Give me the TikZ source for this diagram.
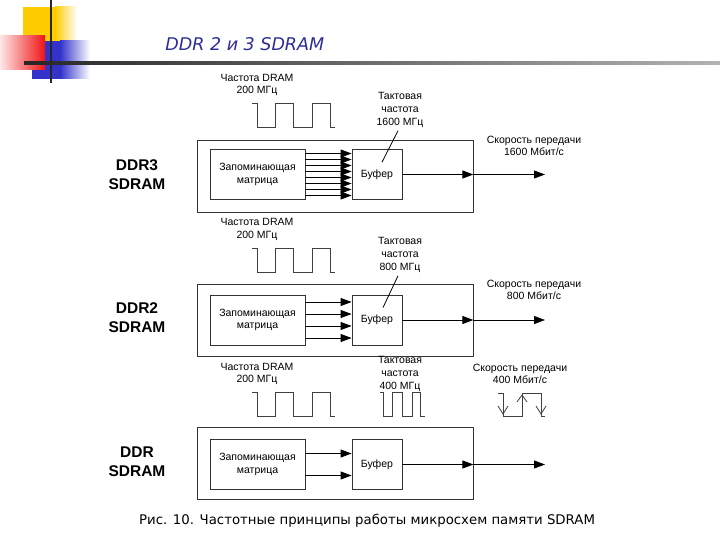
\documentclass[tikz,border=0pt]{standalone}
\usepackage{fontspec}
\setmainfont{Liberation Sans}
\newfontfamily\slidefont{DejaVu Sans}
\usetikzlibrary{arrows.meta}
\definecolor{titleblue}{RGB}{45,45,150}
\definecolor{slideyellow}{RGB}{255,204,0}
\definecolor{slidered}{RGB}{240,20,20}
\definecolor{slideblue}{RGB}{51,51,204}
\tikzset{
	txt/.style={font=\fontsize{10.5}{12.7}\selectfont,align=center,inner sep=0pt},
	chip/.style={font=\fontsize{15.5}{19}\selectfont\bfseries,align=center,inner sep=0pt},
	chipbox/.style={draw=black!80,line width=0.8pt,minimum width=276pt,minimum height=72pt,inner sep=0pt},
	matr/.style={draw=black!80,line width=0.8pt,minimum width=95pt,minimum height=50pt,txt},
	bufbox/.style={draw=black!80,line width=0.8pt,minimum width=50pt,minimum height=50pt,txt},
	wave/.style={draw=black!75,line width=0.8pt}
}
\begin{document}
\begin{tikzpicture}[x=1pt,y=-1pt,>={Triangle[length=11pt,width=8pt]},line width=0.8pt]
	\useasboundingbox (0,0) rectangle (720,540);
	% slide decoration
	\fill[slideyellow] (23,7) rectangle (55,42);
	\shade[left color=slideyellow,right color=white] (55,7) rectangle (77,42);
	\fill[slideblue] (32,41) rectangle (60,79);
	\shade[left color=slideblue,right color=white] (60,41) rectangle (90,79);
	\shade[left color=slidered!10,right color=slidered] (0,36) rectangle (45,70);
	\fill[black!85] (50,0) rectangle (52,83);
	\shade[left color=black!85,right color=black!30] (24,61.8) rectangle (720,64.2);
	\node[anchor=base west,inner sep=0pt,text=titleblue,font=\slidefont\itshape\fontsize{17.5}{20}\selectfont] (title) at (165,51) {DDR 2 и 3 SDRAM};
	% DDR3
	\node[chipbox] (box3) at (335,176) {};
	\node[matr] (mat3) at (257.5,174.5) {Запоминающая\\матрица};
	\node[bufbox] (buf3) at (377,174.5) {Буфер};
	\node[chip] (ddr3) at (137,175) {DDR3\\SDRAM};
	\node[txt] (dram3) at (257,85) {Частота DRAM\\200 МГц};
	\node[txt] (tak3) at (400,110) {Тактовая\\частота\\1600 МГц};
	\node[txt] (rate3) at (534,146) {Скорость передачи\\1600 Мбит/с};
	\coordinate (out3) at (545,174.5);
	\foreach \dy in {-21,-15,...,21}
		\draw[->] ([yshift=\dy pt]mat3.east) -- ([yshift=\dy pt]buf3.west);
	\draw[->] (buf3.east) -- (box3.east |- buf3.east);
	\draw[->] (box3.east |- buf3.east) -- (out3);
	\draw ([xshift=-2pt,yshift=-3pt]tak3.south) -- ([xshift=5pt,yshift=-13pt]buf3.north);
	% DDR2
	\node[chipbox] (box2) at (335,320.5) {};
	\node[matr] (mat2) at (257.5,320) {Запоминающая\\матрица};
	\node[bufbox] (buf2) at (377,320) {Буфер};
	\node[chip] (ddr2) at (137,318) {DDR2\\SDRAM};
	\node[txt] (dram2) at (257,229.5) {Частота DRAM\\200 МГц};
	\node[txt] (tak2) at (400,255) {Тактовая\\частота\\800 МГц};
	\node[txt] (rate2) at (534,290) {Скорость передачи\\800 Мбит/с};
	\coordinate (out2) at (545,320);
	\foreach \dy in {-18,-6,6,18}
		\draw[->] ([yshift=\dy pt]mat2.east) -- ([yshift=\dy pt]buf2.west);
	\draw[->] (buf2.east) -- (box2.east |- buf2.east);
	\draw[->] (box2.east |- buf2.east) -- (out2);
	\draw ([xshift=-2pt,yshift=-3pt]tak2.south) -- ([xshift=6pt,yshift=-13pt]buf2.north);
	% DDR
	\node[chipbox] (box1) at (335,463) {};
	\node[matr] (mat1) at (257.5,464.5) {Запоминающая\\матрица};
	\node[bufbox] (buf1) at (377,464.5) {Буфер};
	\node[chip] (ddr1) at (137,462) {DDR\\SDRAM};
	\node[txt] (dram1) at (257,374) {Частота DRAM\\200 МГц};
	\node[txt] (tak1) at (400,374) {Тактовая\\частота\\400 МГц};
	\node[txt] (rate1) at (520,374) {Скорость передачи\\400 Мбит/с};
	\coordinate (out1) at (545,464.5);
	\foreach \dy in {-11,11}
		\draw[->] ([yshift=\dy pt]mat1.east) -- ([yshift=\dy pt]buf1.west);
	\draw[->] (buf1.east) -- (box1.east |- buf1.east);
	\draw[->] (box1.east |- buf1.east) -- (out1);
	% clock waveforms
	\foreach \hy in {103,248,392}
		\draw[wave] (252,\hy) -| (257,\hy+24) -| (275,\hy) -| (293,\hy+24) -| (312,\hy) -| (330,\hy+24) -- (335,\hy+24);
	\draw[wave] (380,392) -| (383,416) -| (392,392) -| (402,416) -| (412,392) -| (420,416) -- (425,416);
	\draw[wave] (498,393) -| (503,416) -| (522,393) -| (541,416) -- (545,416);
	\draw[wave] (498,406) -- (503,414) -- (508,406);
	\draw[wave] (517,402) -- (522,395) -- (527,402);
	\draw[wave] (536,406) -- (541,414) -- (546,406);
	\node[anchor=base,font=\slidefont\fontsize{13.3}{16}\selectfont] (caption) at (367,524) {Рис. 10. Частотные принципы работы микросхем памяти SDRAM};
\end{tikzpicture}
\end{document}
